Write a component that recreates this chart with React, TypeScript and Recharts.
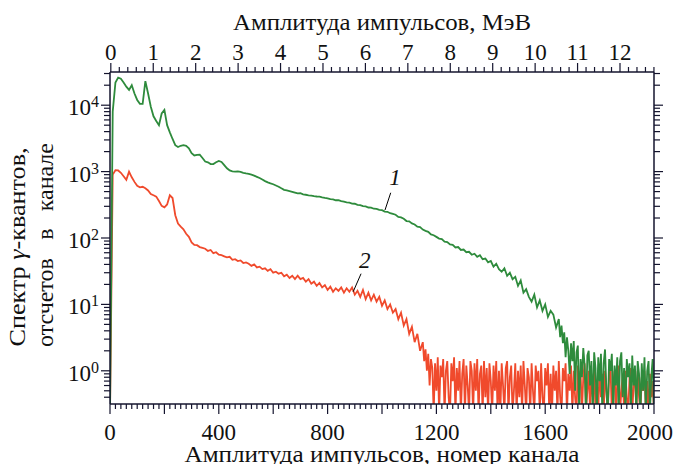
import React from 'react';
import { LineChart, Line, XAxis, YAxis, ReferenceLine, ReferenceDot, Label } from 'recharts';

// ---- data ----
const Z = 0.23; // zero counts (drawn at the floor, below the axis)

const range = (a: number, b: number, s: number) => {
  const out: number[] = [];
  for (let v = a; v <= b; v += s) out.push(v);
  return out;
};

// channel grids (coarse where the spectrum is smooth, finer where it is noisy)
const CHANNELS_1: number[] = [...range(0, 1650, 10), ...range(1655, 2000, 5)];
const CHANNELS_2: number[] = [...range(0, 1150, 10), ...range(1155, 2000, 5)];

const SPECTRUM_1: number[] = [
  Z, 8000, 22000, 26000, 25000, 22000, 19000, 17000, 20000, 15000,
  12000, 10500, 10500, 23000, 15000, 9500, 6800, 5800, 5000, 7500,
  8500, 5000, 3900, 3100, 2500, 2350, 2450, 2500, 2450, 2250,
  1900, 1750, 1780, 1800, 1600, 1420, 1380, 1300, 1300, 1380,
  1450, 1400, 1250, 1120, 1040, 1010, 1000, 1010, 990, 960,
  940, 925, 900, 870, 835, 800, 760, 720, 690, 665,
  645, 618, 592, 560, 532, 520, 508, 495, 482, 470,
  472, 455, 448, 440, 436, 428, 422, 420, 410, 402,
  396, 384, 382, 370, 370, 358, 352, 344, 340, 330,
  328, 316, 312, 302, 300, 288, 287, 276, 274, 265,
  262, 250, 248, 236, 230, 224, 208, 204, 195, 180,
  178, 166, 160, 148, 146, 134, 128, 124, 113, 110,
  104, 98, 96, 88, 87, 80, 79, 72, 73, 66,
  67, 61, 62, 56, 58, 52, 55, 48, 49, 43,
  45, 37, 41, 34, 31, 35, 27, 30, 24, 26,
  19, 23, 15, 17, 13, 11, 14, 9, 11.5, 8,
  10, 6.5, 8, 7, 4.5, 6,
  // step 5 from 1655
  3.2, 4.8, 2.6, 3.8, 1.6, 3.2, 2.0, 0.9, 2.6, 1.4,
  2.8, 0.5, 1.9, 2.4, Z, 1.5, 0.8, 2.2, 1.2, Z,
  1.7, 2.0, 0.6, 1.4, Z, 1.9, 1.1, Z, 1.6, 0.7,
  1.8, Z, 1.3, 2.1, 0.5, Z, 1.5, 1.0, 1.8, Z,
  1.2, 0.6, 1.6, Z, 1.4, 1.9, 0.4, 1.1, Z, 1.5,
  0.8, 1.3, Z, 1.7, 0.6, 1.2, Z, 1.4, 0.9, Z,
  1.3, 0.5, 1.6, Z, 1.0, 1.4, Z, 0.8, 1.5, Z,
];

const SPECTRUM_2: number[] = [
  Z, 900, 1050, 1040, 960, 850, 750, 1000, 820, 700,
  610, 580, 590, 560, 520, 460, 440, 420, 360, 305,
  290, 320, 440, 400, 220, 165, 148, 135, 116, 104,
  86, 79, 78, 73, 71, 69, 64, 66, 59, 61,
  56, 55, 53, 51, 52, 47, 48, 45, 46, 42,
  43, 41, 38, 40, 36, 37, 34, 35, 32, 34,
  30, 31, 29, 30, 26.5, 28, 25, 27, 24, 27,
  24, 25, 22, 24, 20.5, 22, 19, 21, 18, 19.5,
  16.5, 18.5, 15.5, 17.5, 16, 18, 15, 17.5, 15.5, 18,
  14, 16, 13, 16.5, 12, 15, 11.5, 14, 11, 13,
  9.5, 11.5, 8.5, 10, 7.5, 8.5, 6, 7.5, 4.8, 6,
  3.6, 4.6, 2.7, 3.6, 2.0, 2.7,
  // step 5 from 1155
  1.4, 2.1, 1.0, 1.8, 0.6, 1.5, 1.1, Z, 1.3, 0.5,
  1.6, Z, 1.2, 0.8, 1.5, Z, 1.0, 1.4, 0.4, Z,
  1.3, 0.7, 1.6, Z, 1.1, 0.5, 1.4, Z, 0.9, 1.5,
  Z, 1.2, 0.6, Z, 1.4, 1.0, Z, 1.3, 0.5, 1.5,
  Z, 0.9, 1.2, Z, 1.4, 0.4, 1.1, Z, 1.3, 0.7,
  Z, 1.2, 0.5, 1.4, Z, 1.0, Z, 1.3, 0.6, Z,
  1.1, 1.4, Z, 0.8, 1.2, Z, 0.5, 1.3, Z, 1.0,
  0.4, 1.2, Z, 1.4, 0.6, Z, 1.1, 0.8, Z, 1.3,
  0.5, Z, 1.2, 0.7, 1.0, Z, 1.3, 0.4, Z, 1.1,
  0.6, 1.3, Z, 0.9, Z, 1.2, 0.5, 1.0, Z, 1.4,
  0.4, Z, 1.1, 0.7, 1.3, Z, 0.9, 0.5, 1.2, Z,
  1.0, 0.4, Z, 1.2, 0.6, 1.0, Z, 0.8, 1.3, Z,
  0.5, 1.0, Z, 0.9, 0.4, 1.1, Z, 0.7, Z, 1.2,
  0.4, 0.9, Z, 1.0, 0.5, Z, 0.8, 1.1, Z, 0.6,
  1.0, Z, 0.7, 1.2, Z, 0.5, 0.9, Z, 1.0, 0.4,
  Z, 0.8, 1.1, Z, 0.6, 0.9, Z, 1.0, 0.4, Z,
  0.8, 0.5, 1.0, Z, 0.7, Z, 0.9, 0.4, 0.7, Z,
];

// ticks
const BOTTOM_LABELS = [0, 400, 800, 1200, 1600, 2000];
const BOTTOM_TICKS: number[] = range(0, 2000, 20);
const MEV_OFFSET = 3;     // channel of 0 MeV
const CH_PER_MEV = 156;   // channels per MeV
const TOP_TICKS: number[] = Array.from({ length: 65 }, (_, i) => MEV_OFFSET + (CH_PER_MEV * i) / 5);
const Y_DOMAIN: [number, number] = [Math.pow(10, -0.5), Math.pow(10, 4.5)];
const Y_TICKS: number[] = (() => {
  const out: number[] = [];
  for (let e = -1; e <= 4; e++) {
    for (let m = 1; m <= 9; m++) {
      const v = m * Math.pow(10, e);
      if (v >= Y_DOMAIN[0] && v <= Y_DOMAIN[1]) out.push(v);
    }
  }
  return out;
})();

const data1 = CHANNELS_1.map((ch, i) => ({ ch, s1: SPECTRUM_1[i] }));
const data2 = CHANNELS_2.map((ch, i) => ({ ch, s2: SPECTRUM_2[i] }));

// ---- styles ----
const FONT = '"Liberation Serif", "Times New Roman", serif';
const AXIS = '#14142e';
const TXT = '#111';
const GREEN = '#2e8b3c';
const RED = '#f04a2c';

function BottomTick(props: any) {
  const { x, y, payload } = props;
  const v = payload.value as number;
  const major = v % 200 === 0;
  return (
    <g>
      <line x1={x} y1={y} x2={x} y2={y + (major ? 10 : 5)} stroke={AXIS} strokeWidth={1.2} />
      {BOTTOM_LABELS.includes(v) && (
        <text x={v === 2000 ? x - 4 : x} y={y + 36} textAnchor="middle" fontFamily={FONT} fontSize={23} fill={TXT}>
          {v}
        </text>
      )}
    </g>
  );
}

function TopTick(props: any) {
  const { x, y, payload } = props;
  const mev = (payload.value - MEV_OFFSET) / CH_PER_MEV;
  const r = Math.round(mev);
  const major = Math.abs(mev - r) < 1e-6;
  return (
    <g>
      <line x1={x} y1={y} x2={x} y2={y - (major ? 9 : 5)} stroke={AXIS} strokeWidth={1.2} />
      {major && (
        <text x={x} y={y - 12} textAnchor="middle" fontFamily={FONT} fontSize={23} fill={TXT}>
          {r}
        </text>
      )}
    </g>
  );
}

function LeftTick(props: any) {
  const { x, y, payload } = props;
  const v = payload.value as number;
  const lg = Math.log10(v);
  const e = Math.round(lg);
  const major = Math.abs(lg - e) < 1e-6;
  return (
    <g>
      <line x1={x} y1={y} x2={x - (major ? 9 : 6)} y2={y} stroke={AXIS} strokeWidth={1.2} />
      {major && (
        <text x={x - 11} y={y + 10} textAnchor="end" fontFamily={FONT} fontSize={23} fill={TXT}>
          10
          <tspan dy={-8} fontSize={16}>
            {e}
          </tspan>
        </text>
      )}
    </g>
  );
}

function RightTick(props: any) {
  const { x, y, payload } = props;
  const v = payload.value as number;
  const lg = Math.log10(v);
  const major = Math.abs(lg - Math.round(lg)) < 1e-6;
  return <line x1={x} y1={y} x2={x + (major ? 9 : 6)} y2={y} stroke={AXIS} strokeWidth={1.2} />;
}

function BottomTitle(props: any) {
  const vb = props.viewBox;
  return (
    <text x={vb.x + vb.width / 2} y={vb.y + 58} textAnchor="middle" fontFamily={FONT} fontSize={24} fill={TXT}
      textLength={395} lengthAdjust="spacingAndGlyphs">
      Амплитуда импульсов, номер канала
    </text>
  );
}

function TopTitle(props: any) {
  const vb = props.viewBox;
  return (
    <text x={vb.x + vb.width / 2} y={vb.y + 7.5} textAnchor="middle" fontFamily={FONT} fontSize={24} fill={TXT}
      textLength={298} lengthAdjust="spacingAndGlyphs">
      Амплитуда импульсов, МэВ
    </text>
  );
}

function LeftTitle(props: any) {
  const vb = props.viewBox;
  const cy = vb.y + vb.height / 2 + 9;
  const x1 = vb.x + 25;
  const x2 = vb.x + 53;
  return (
    <g fontFamily={FONT} fontSize={24} fill={TXT}>
      <g transform={`translate(${x1},0) rotate(-90)`}>
        <text x={-cy} y={0} textAnchor="middle" textLength={199} lengthAdjust="spacingAndGlyphs">
          Спектр <tspan fontStyle="italic">γ</tspan>-квантов,
        </text>
      </g>
      <g transform={`translate(${x2},0) rotate(-90)`}>
        <text x={-(cy + 100)} y={0} textAnchor="start">отсчетов</text>
        <text x={-(cy - 13)} y={0} textAnchor="middle">в</text>
        <text x={-(cy - 104)} y={0} textAnchor="end">канале</text>
      </g>
    </g>
  );
}

const curveLabel = (txt: string) => (p: any) => (
  <text x={p.cx} y={p.cy} textAnchor="middle" fontFamily={FONT} fontStyle="italic" fontSize={23} fill={TXT}>
    {txt}
  </text>
);

export default function App() {
  return (
    <div style={{ position: 'absolute', left: 0, top: 0, background: '#fff' }}>
      <LineChart width={675} height={464} margin={{ top: 22, right: 11, bottom: 10, left: 0 }}>
        <XAxis
          xAxisId="bottom"
          orientation="bottom"
          dataKey="ch"
          type="number"
          domain={[0, 2000]}
          allowDataOverflow
          ticks={BOTTOM_TICKS}
          interval={0}
          tickSize={0}
          tickMargin={0}
          tickLine={false}
          tick={BottomTick}
          axisLine={{ stroke: AXIS, strokeWidth: 1.5 }}
          height={50}
        >
          <Label content={BottomTitle} />
        </XAxis>
        <XAxis
          xAxisId="top"
          orientation="top"
          dataKey="ch"
          type="number"
          domain={[0, 2000]}
          allowDataOverflow
          ticks={TOP_TICKS}
          interval={0}
          tickSize={0}
          tickMargin={0}
          tickLine={false}
          tick={TopTick}
          axisLine={{ stroke: AXIS, strokeWidth: 1.5 }}
          height={50}
        >
          <Label content={TopTitle} />
        </XAxis>
        <YAxis
          yAxisId="left"
          orientation="left"
          type="number"
          scale="log"
          domain={Y_DOMAIN}
          allowDataOverflow
          ticks={Y_TICKS}
          interval={0}
          tickSize={0}
          tickMargin={0}
          tickLine={false}
          tick={LeftTick}
          axisLine={{ stroke: AXIS, strokeWidth: 1.5 }}
          width={110}
        >
          <Label content={LeftTitle} />
        </YAxis>
        <YAxis
          yAxisId="right"
          orientation="right"
          type="number"
          scale="log"
          domain={Y_DOMAIN}
          allowDataOverflow
          ticks={Y_TICKS}
          interval={0}
          tickSize={0}
          tickMargin={0}
          tickLine={false}
          tick={RightTick}
          axisLine={{ stroke: AXIS, strokeWidth: 1.5 }}
          width={10}
        />
        <Line
          data={data2}
          xAxisId="top"
          yAxisId="left"
          dataKey="s2"
          type="linear"
          stroke={RED}
          strokeWidth={1.8}
          dot={false}
          isAnimationActive={false}
        />
        <Line
          data={data1}
          xAxisId="bottom"
          yAxisId="right"
          dataKey="s1"
          type="linear"
          stroke={GREEN}
          strokeWidth={1.8}
          dot={false}
          isAnimationActive={false}
        />
        <ReferenceLine
          xAxisId="bottom"
          yAxisId="left"
          segment={[{ x: 1011, y: 263 }, { x: 1032, y: 480 }]}
          stroke="#000"
          strokeWidth={1}
        />
        <ReferenceLine
          xAxisId="bottom"
          yAxisId="left"
          segment={[{ x: 894, y: 15.5 }, { x: 923, y: 29 }]}
          stroke="#000"
          strokeWidth={1}
        />
        <ReferenceDot xAxisId="bottom" yAxisId="left" x={1048} y={620} r={1} shape={curveLabel('1')} />
        <ReferenceDot xAxisId="bottom" yAxisId="left" x={937} y={35} r={1} shape={curveLabel('2')} />
      </LineChart>
    </div>
  );
}
